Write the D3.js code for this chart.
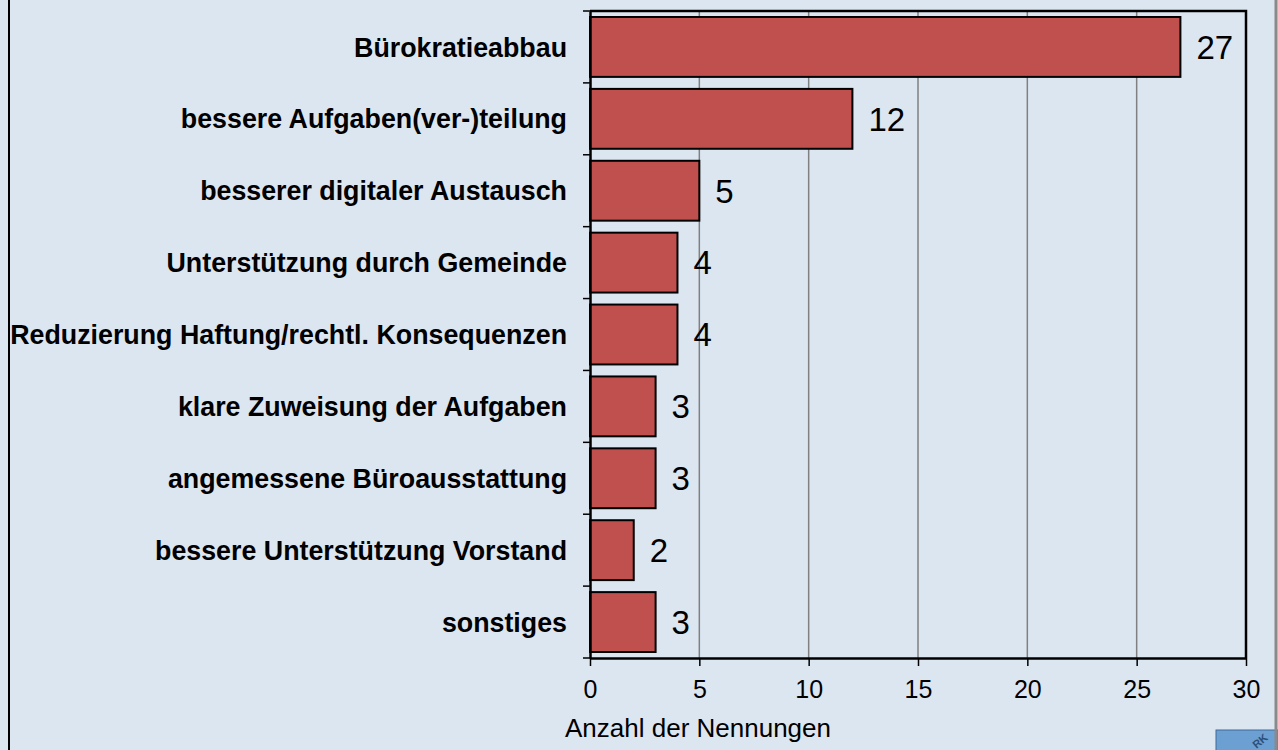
<!DOCTYPE html>
<html>
<head>
<meta charset="utf-8">
<script src="https://cdn.jsdelivr.net/npm/d3@7"></script>
<style>
    html, body { margin: 0; padding: 0; background: #dce6f1 }
    svg { display: block; font-family: Arial, 'Liberation Sans', sans-serif }
</style>
</head>
<body>
<svg id="chart" width="1278" height="750"></svg>
<script>

var categories = [
    'Bürokratieabbau',
    'bessere Aufgaben(ver-)teilung',
    'besserer digitaler Austausch',
    'Unterstützung durch Gemeinde',
    'Reduzierung Haftung/rechtl. Konsequenzen',
    'klare Zuweisung der Aufgaben',
    'angemessene Büroausstattung',
    'bessere Unterstützung Vorstand',
    'sonstiges'
]
var values = [27, 12, 5, 4, 4, 3, 3, 2, 3]
var tickValues = [0, 5, 10, 15, 20, 25, 30]
var axisTitle = 'Anzahl der Nennungen'

var plot = { left: 590, right: 1246, top: 11, bottom: 658 }

var svg = d3.select('#chart')

svg.append('rect')
    .attr('width', 1278)
    .attr('height', 750)
    .attr('fill', '#dce6f1')

// frame edges of the original slide
svg.append('line')
    .attr('x1', 9).attr('x2', 9)
    .attr('y1', 0).attr('y2', 750)
    .attr('stroke', '#000').attr('stroke-width', 2)

var xScale = d3.scaleLinear()
    .domain([0, 30])
    .range([plot.left, plot.right])

var yScale = d3.scaleBand()
    .domain(d3.range(categories.length))
    .range([plot.top, plot.bottom])

var barScale = d3.scaleBand()
    .domain(d3.range(categories.length))
    .range([plot.top, plot.bottom])
    .paddingInner(0.167)
    .paddingOuter(0.0835)

// grid
svg.append('g')
    .attr('id', 'grid')
    .selectAll('line')
    .data(tickValues.filter(function (d) { return d > 0 && d < 30 }))
    .enter()
    .append('line')
    .attr('x1', xScale)
    .attr('x2', xScale)
    .attr('y1', plot.top)
    .attr('y2', plot.bottom)
    .attr('stroke', '#808080')
    .attr('stroke-width', 1.5)

// bars
svg.append('g')
    .attr('id', 'bars')
    .selectAll('rect')
    .data(values)
    .enter()
    .append('rect')
    .attr('x', xScale(0))
    .attr('y', function (_, i) { return barScale(i) })
    .attr('width', function (d) { return xScale(d) - xScale(0) })
    .attr('height', barScale.bandwidth())
    .attr('fill', '#c0504d')
    .attr('stroke', '#000')
    .attr('stroke-width', 2)

// value labels
svg.append('g')
    .attr('id', 'labels')
    .selectAll('text')
    .data(values)
    .enter()
    .append('text')
    .attr('x', function (d) { return xScale(d) + 16 })
    .attr('y', function (_, i) { return yScale(i) + yScale.bandwidth() / 2 })
    .attr('dy', '0.36em')
    .attr('font-size', 33)
    .attr('fill', '#000')
    .text(function (d) { return d })

// plot frame top/right
svg.append('path')
    .attr('d', 'M' + plot.left + ',' + plot.top + 'H' + plot.right + 'V' + plot.bottom)
    .attr('fill', 'none')
    .attr('stroke', '#000')
    .attr('stroke-width', 2.5)

// y axis
var yAxis = d3.axisLeft(yScale)
    .tickValues([])
    .tickSizeOuter(0)

var yAxisElement = svg.append('g')
    .attr('id', 'y-axis')
    .attr('transform', 'translate(' + plot.left + ',0)')
    .call(yAxis)

yAxisElement.select('.domain')
    .attr('stroke', '#000')
    .attr('stroke-width', 2.5)

yAxisElement.selectAll('line.cat-tick')
    .data(d3.range(categories.length + 1))
    .enter()
    .append('line')
    .attr('class', 'cat-tick')
    .attr('x1', -7).attr('x2', 0)
    .attr('y1', function (i) { return i < categories.length ? yScale(i) : plot.bottom })
    .attr('y2', function (i) { return i < categories.length ? yScale(i) : plot.bottom })
    .attr('stroke', '#000')
    .attr('stroke-width', 1.5)

yAxisElement.selectAll('text.cat')
    .data(categories)
    .enter()
    .append('text')
    .attr('class', 'cat')
    .attr('x', -23)
    .attr('y', function (_, i) { return yScale(i) + yScale.bandwidth() / 2 })
    .attr('dy', '0.36em')
    .attr('text-anchor', 'end')
    .attr('font-size', 26.8)
    .attr('font-weight', 'bold')
    .attr('fill', '#000')
    .text(function (d) { return d })

// x axis
var xAxis = d3.axisBottom(xScale)
    .tickValues(tickValues)
    .tickSize(8)
    .tickSizeOuter(0)
    .tickPadding(14)

var xAxisElement = svg.append('g')
    .attr('id', 'x-axis')
    .attr('transform', 'translate(0,' + plot.bottom + ')')
    .call(xAxis)
    .attr('font-family', null)
    .attr('font-size', 25)

xAxisElement.select('.domain')
    .attr('stroke', '#000')
    .attr('stroke-width', 2.5)

xAxisElement.selectAll('.tick line')
    .attr('stroke', '#000')
    .attr('stroke-width', 1.5)

xAxisElement.selectAll('.tick text')
    .attr('fill', '#000')

svg.append('text')
    .attr('x', 565)
    .attr('y', 737)
    .attr('font-size', 26)
    .attr('fill', '#000')
    .text(axisTitle)

// logo corner, cut off in the original
var logo = svg.append('g')
    .attr('id', 'logo')
    .attr('transform', 'translate(1216,730)')

logo.append('rect')
    .attr('width', 62)
    .attr('height', 22)
    .attr('fill', '#6c9fd2')
    .attr('stroke', '#3d6b9a')
    .attr('stroke-width', 1)

logo.append('text')
    .attr('transform', 'translate(44,11) rotate(-40)')
    .attr('text-anchor', 'middle')
    .attr('dy', '0.35em')
    .attr('font-size', 11)
    .attr('font-weight', 'bold')
    .attr('fill', '#2b4f78')
    .text('RK')

svg.append('line')
    .attr('x1', 1276).attr('x2', 1276)
    .attr('y1', 0).attr('y2', 750)
    .attr('stroke', '#8a8a8a').attr('stroke-width', 3)

</script>
</body>
</html>
